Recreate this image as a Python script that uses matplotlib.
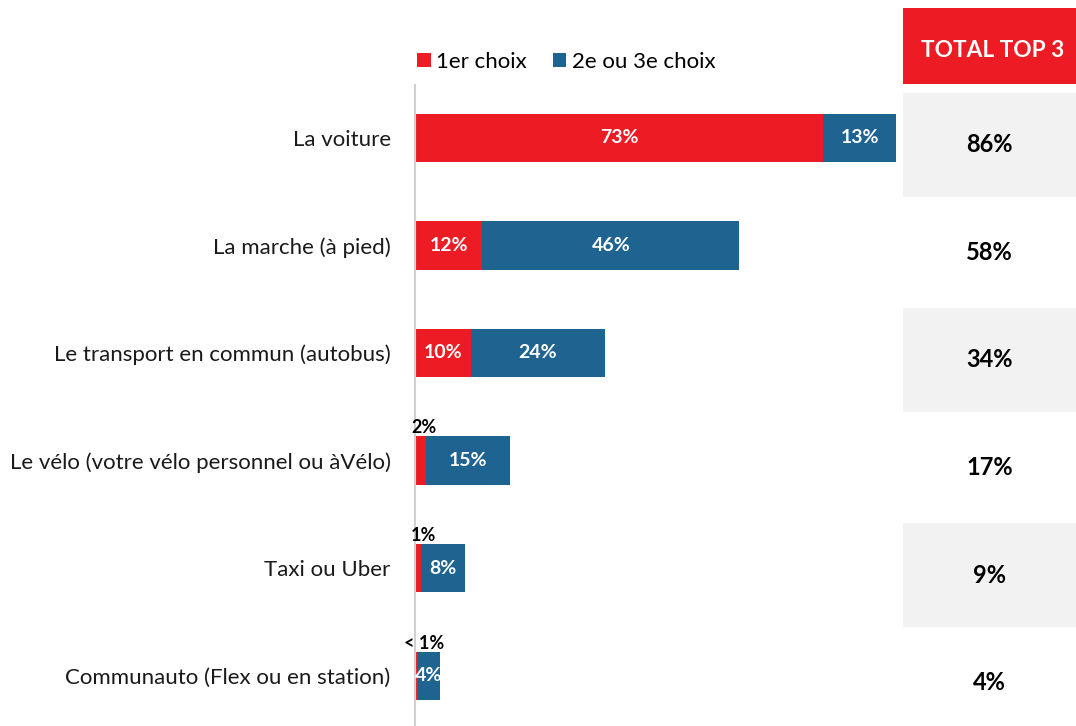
import matplotlib
matplotlib.use("Agg")
import matplotlib.pyplot as plt
from matplotlib.patches import Rectangle

categories = ["La voiture", "La marche (à pied)", "Le transport en commun (autobus)",
              "Le vélo (votre vélo personnel ou àVélo)", "Taxi ou Uber",
              "Communauto (Flex ou en station)"]
first_choice = [73, 12, 10, 2, 1, 0.5]
first_labels = ["73%", "12%", "10%", "2%", "1%", "< 1%"]
second_choice = [13, 46, 24, 15, 8, 4]
second_labels = ["13%", "46%", "24%", "15%", "8%", "4%"]
total_top3 = ["86%", "58%", "34%", "17%", "9%", "4%"]
series_names = ["1er choix", "2e ou 3e choix"]
header = "TOTAL TOP 3"

RED = "#ED1C24"
BLUE = "#1F6391"
GRAY = "#F2F2F2"

plt.rcParams['font.family'] = ['Lato', 'DejaVu Sans']

W, H = 1076, 726
fig = plt.figure(figsize=(W / 100, H / 100), dpi=100)

def px_axes(x0, y0, x1, y1):
    return fig.add_axes([x0 / W, 1 - y1 / H, (x1 - x0) / W, (y1 - y0) / H])

# main bar axes
ax = px_axes(414, 85, 900, 726)
n = len(categories)
ypos = list(range(n))
ax.barh(ypos, first_choice, height=0.45, color=RED, label=series_names[0])
ax.barh(ypos, second_choice, left=first_choice, height=0.45, color=BLUE,
        label=series_names[1])
px_per_unit = (897 - 415) / 86
ax.set_xlim(-1 / px_per_unit, (900 - 414) / px_per_unit)
ax.set_ylim(-0.49 + 641 / 107.6, -0.49)
for s in ["top", "right", "bottom"]:
    ax.spines[s].set_visible(False)
ax.spines["left"].set_color("#D0D0D0")
ax.spines["left"].set_linewidth(1.5)
ax.spines["left"].set_position(("data", 0))
ax.set_xticks([])
ax.set_yticks(ypos)
ax.set_yticklabels(categories, fontsize=16, color="#1a1a1a")
ax.tick_params(axis="y", length=0, pad=17.5)

for i in ypos:
    f, s = first_choice[i], second_choice[i]
    if f >= 5:
        ax.text(f / 2, i, first_labels[i], ha="center", va="center",
                color="white", fontsize=14, fontweight="bold")
    else:
        ax.text(1.6, i - 0.225, first_labels[i], ha="center", va="bottom",
                color="black", fontsize=13, fontweight="bold")
    ax.text(f + s / 2, i, second_labels[i], ha="center", va="center",
            color="white", fontsize=14, fontweight="bold")

# legend
leg = fig.legend(loc="upper left", bbox_to_anchor=(408 / W, 1 - 43 / H), ncol=2,
                 frameon=False, fontsize=16, handlelength=0.62, handleheight=0.62,
                 handletextpad=0.25, columnspacing=1.15, borderaxespad=0)

# table axes
tax = px_axes(903, 85, 1076, 726)
tax.set_xlim(0, 1)
tax.set_ylim(ax.get_ylim())
tax.axis("off")
off = 7 / 107.6
ch = 104 / 107.6
for i in ypos:
    if i % 2 == 0:
        tax.add_patch(Rectangle((0, i + off - ch / 2), 1, ch, color=GRAY, lw=0))
    tax.text(0.5, i + off, total_top3[i], ha="center", va="center",
             fontsize=17, fontweight="bold", color="black")

hax = px_axes(903, 8, 1076, 84)
hax.set_xlim(0, 1)
hax.set_ylim(0, 1)
hax.axis("off")
hax.add_patch(Rectangle((0, 0), 1, 1, color=RED, lw=0))
hax.text(0.52, 0.44, header, ha="center", va="center", color="white",
         fontsize=16.3, fontweight="bold")

fig.savefig("out.png", dpi=100)
